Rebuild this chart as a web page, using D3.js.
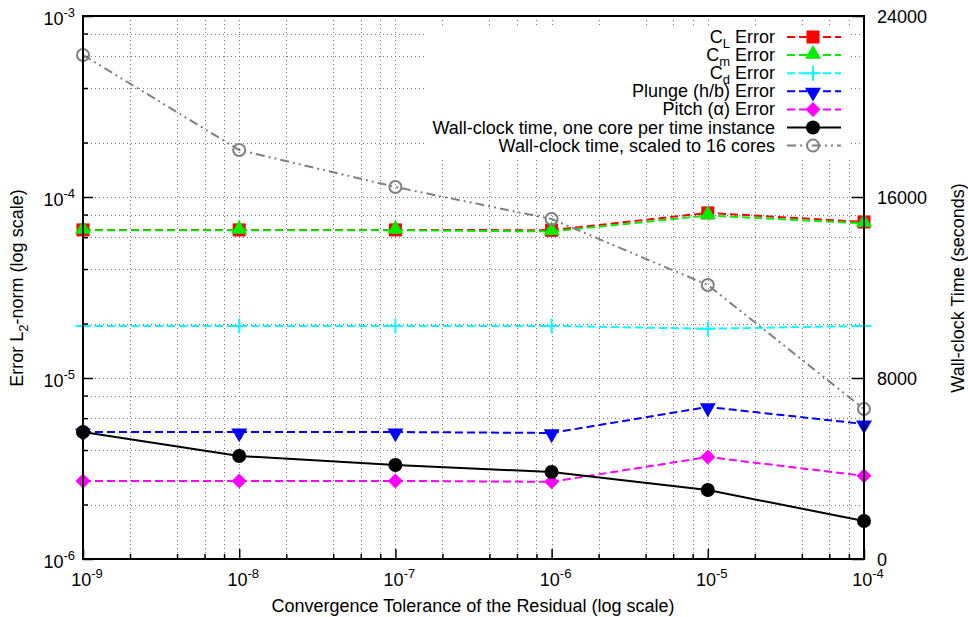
<!DOCTYPE html>
<html>
<head>
<meta charset="utf-8">
<script src="https://d3js.org/d3.v7.min.js"></script>
<style>
  body { margin: 0; background: #fff; }
  svg text { font-family: "Liberation Sans", Arial, Helvetica, sans-serif; fill: #000; }
</style>
</head>
<body>
<svg width="968" height="617"></svg>
<script>
// tolerance values on the x axis
var tolerance = [1e-9, 1e-8, 1e-7, 1e-6, 1e-5, 1e-4];

// error series (left axis, log)
var clError     = [6.58e-5, 6.58e-5, 6.58e-5, 6.55e-5, 8.17e-5, 7.28e-5];
var cmError     = [6.55e-5, 6.55e-5, 6.55e-5, 6.45e-5, 7.90e-5, 7.15e-5];
var cdError     = [1.94e-5, 1.94e-5, 1.94e-5, 1.94e-5, 1.87e-5, 1.94e-5];
var plungeError = [5.03e-6, 5.03e-6, 5.03e-6, 4.97e-6, 6.92e-6, 5.57e-6];
var pitchError  = [2.70e-6, 2.70e-6, 2.70e-6, 2.67e-6, 3.66e-6, 2.88e-6];

// wall-clock time series (right axis, seconds)
var wallOneCore  = [5613, 4552, 4155, 3845, 3050, 1680];
var wallScaled16 = [22276, 18078, 16442, 15028, 12111, 6630];

var xTicks = [1e-9, 1e-8, 1e-7, 1e-6, 1e-5, 1e-4];
var yTicks = [1e-6, 1e-5, 1e-4, 1e-3];
var y2Ticks = [0, 8000, 16000, 24000];

var svg = d3.select("svg");
var pLeft = 83, pRight = 864, pTop = 16, pBottom = 559;
var fs = 18, fsSup = 13;

var x = d3.scaleLog().domain([1e-9, 1e-4]).range([pLeft, pRight]);
var y = d3.scaleLog().domain([1e-6, 1e-3]).range([pBottom, pTop]);
var y2 = d3.scaleLinear().domain([0, 24000]).range([pBottom, pTop]);

// minor positions 2,4,6,8 in each decade
function minors(dom) {
  var out = [];
  var lo = Math.round(Math.log10(dom[0])), hi = Math.round(Math.log10(dom[1]));
  for (var e = lo; e < hi; e++) {
    [2, 4, 6, 8].forEach(function(m) { out.push(m * Math.pow(10, e)); });
  }
  return out;
}
var xMinor = minors(x.domain());
var yMinor = minors(y.domain());

// grid
var grid = svg.append("g").attr("stroke", "#777").attr("stroke-width", 1)
  .attr("stroke-dasharray", "1,3");
xTicks.concat(xMinor).forEach(function(v) {
  if (v <= 1e-9 || v >= 1e-4) return;
  grid.append("line").attr("x1", Math.round(x(v)) + 0.5).attr("x2", Math.round(x(v)) + 0.5)
    .attr("y1", pTop).attr("y2", pBottom);
});
yTicks.concat(yMinor).forEach(function(v) {
  if (v <= 1e-6 || v >= 1e-3) return;
  grid.append("line").attr("y1", Math.round(y(v)) + 0.5).attr("y2", Math.round(y(v)) + 0.5)
    .attr("x1", pLeft).attr("x2", pRight);
});

// axes ticks
var axisX = svg.append("g").attr("transform", "translate(0," + pBottom + ")");
axisX.call(d3.axisBottom(x).tickValues(xTicks).tickSizeInner(-10).tickSizeOuter(0).tickFormat(""));
axisX.append("g").call(d3.axisBottom(x).tickValues(xMinor).tickSizeInner(-5).tickSizeOuter(0).tickFormat(""));

var axisY = svg.append("g").attr("transform", "translate(" + pLeft + ",0)");
axisY.call(d3.axisLeft(y).tickValues(yTicks).tickSizeInner(-10).tickSizeOuter(0).tickFormat(""));
axisY.append("g").call(d3.axisLeft(y).tickValues(yMinor).tickSizeInner(-5).tickSizeOuter(0).tickFormat(""));

var axisY2 = svg.append("g").attr("transform", "translate(" + pRight + ",0)");
axisY2.call(d3.axisRight(y2).tickValues(y2Ticks).tickSizeInner(-12).tickSizeOuter(0).tickFormat(""));

svg.selectAll(".domain").remove();
svg.selectAll(".tick line").attr("stroke", "#000").attr("stroke-width", 1.5);

// tick labels with superscript exponents
function powLabel(g, v, px, py, anchor) {
  var t = g.append("text").attr("x", px).attr("y", py).attr("text-anchor", anchor)
    .attr("font-size", fs);
  t.append("tspan").text("10");
  t.append("tspan").attr("font-size", fsSup).attr("dy", -8).text(Math.round(Math.log10(v)));
}
var labels = svg.append("g");
xTicks.forEach(function(v) { powLabel(labels, v, x(v) + 4, 586, "middle"); });
yTicks.forEach(function(v) { powLabel(labels, v, pLeft - 8, y(v) + 9, "end"); });
y2Ticks.forEach(function(v) {
  labels.append("text").attr("x", 877).attr("y", y2(v) + 7)
    .attr("font-size", fs).text(v);
});

// axis titles
svg.append("text").attr("x", 473).attr("y", 612).attr("text-anchor", "middle")
  .attr("font-size", fs).text("Convergence Tolerance of the Residual (log scale)");
var yl = svg.append("text").attr("transform", "translate(23,288) rotate(-90)")
  .attr("text-anchor", "middle").attr("font-size", fs);
yl.append("tspan").text("Error L");
yl.append("tspan").attr("font-size", fsSup).attr("dy", 5).text("2");
yl.append("tspan").attr("dy", -5).text("-norm (log scale)");
svg.append("text").attr("transform", "translate(964,288) rotate(-90)")
  .attr("text-anchor", "middle").attr("font-size", fs).text("Wall-clock Time (seconds)");

// series
var series = [
  { name: ["C", "L", " Error"], values: clError, axis: y, color: "#ff0000", dash: "8,4", marker: "square" },
  { name: ["C", "m", " Error"], values: cmError, axis: y, color: "#00ee00", dash: "8,4", marker: "triangle" },
  { name: ["C", "d", " Error"], values: cdError, axis: y, color: "#00ffff", dash: "8,4", marker: "plus" },
  { name: ["Plunge (h/b) Error"], values: plungeError, axis: y, color: "#0000ff", dash: "8,4", marker: "down" },
  { name: ["Pitch (\u03b1) Error"], values: pitchError, axis: y, color: "#ff00ff", dash: "8,4", marker: "diamond" },
  { name: ["Wall-clock time, one core per time instance"], values: wallOneCore, axis: y2, color: "#000000", dash: null, marker: "dot" },
  { name: ["Wall-clock time, scaled to 16 cores"], values: wallScaled16, axis: y2, color: "#808080", dash: "9,4,2,4,2,4", marker: "ring" }
];

function drawMarker(g, type, cx, cy, color) {
  if (type === "square") {
    g.append("rect").attr("x", cx - 6.5).attr("y", cy - 6.5).attr("width", 13).attr("height", 13).attr("fill", color);
  } else if (type === "triangle") {
    g.append("path").attr("d", d3.symbol(d3.symbolTriangle, 110)()).attr("transform", "translate(" + cx + "," + (cy - 1) + ")").attr("fill", color);
  } else if (type === "down") {
    g.append("path").attr("d", d3.symbol(d3.symbolTriangle, 110)()).attr("transform", "translate(" + cx + "," + (cy + 1) + ") rotate(180)").attr("fill", color);
  } else if (type === "diamond") {
    g.append("path").attr("d", "M0,-7.5L7.5,0L0,7.5L-7.5,0Z").attr("transform", "translate(" + cx + "," + cy + ")").attr("fill", color);
  } else if (type === "plus") {
    g.append("path").attr("d", "M-7.5,0H7.5M0,-7.5V7.5").attr("transform", "translate(" + cx + "," + cy + ")")
      .attr("stroke", color).attr("stroke-width", 2).attr("fill", "none");
  } else if (type === "dot") {
    g.append("circle").attr("cx", cx).attr("cy", cy).attr("r", 7).attr("fill", color);
  } else if (type === "ring") {
    g.append("circle").attr("cx", cx).attr("cy", cy).attr("r", 6).attr("fill", "none")
      .attr("stroke", color).attr("stroke-width", 2);
  }
}

var plot = svg.append("g");
series.forEach(function(s) {
  var line = d3.line().x(function(d, i) { return x(tolerance[i]); }).y(function(d) { return s.axis(d); });
  var p = plot.append("path").datum(s.values).attr("d", line).attr("fill", "none")
    .attr("stroke", s.color).attr("stroke-width", 2);
  if (s.dash) p.attr("stroke-dasharray", s.dash);
  s.values.forEach(function(v, i) { drawMarker(plot, s.marker, x(tolerance[i]), s.axis(v), s.color); });
});

// legend
var legend = svg.append("g");
legend.append("rect").attr("x", 425).attr("y", 27).attr("width", 426).attr("height", 130).attr("fill", "#fff");
series.forEach(function(s, i) {
  var ly = 37 + i * 18.1;
  var t = legend.append("text").attr("x", 775).attr("y", ly + 6).attr("text-anchor", "end").attr("font-size", fs);
  if (s.name.length === 3) {
    t.append("tspan").text(s.name[0]);
    t.append("tspan").attr("font-size", fsSup).attr("dy", 5).text(s.name[1]);
    t.append("tspan").attr("dy", -5).text(s.name[2]);
  } else {
    t.text(s.name[0]);
  }
  var l = legend.append("line").attr("x1", 787).attr("x2", 841).attr("y1", ly).attr("y2", ly)
    .attr("stroke", s.color).attr("stroke-width", 2);
  if (s.dash) l.attr("stroke-dasharray", s.dash);
  drawMarker(legend, s.marker, 813, ly, s.color);
});

// frame
svg.append("rect").attr("x", pLeft).attr("y", pTop).attr("width", pRight - pLeft).attr("height", pBottom - pTop)
  .attr("fill", "none").attr("stroke", "#000").attr("stroke-width", 2);
</script>
</body>
</html>
